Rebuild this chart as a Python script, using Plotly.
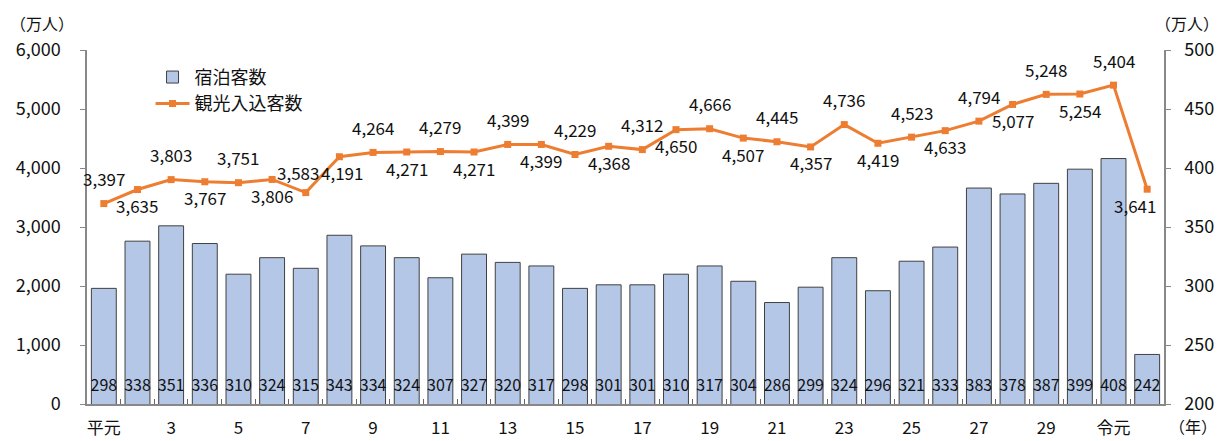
import plotly.graph_objects as go

# --- data ---
years = ["平元", "2", "3", "4", "5", "6", "7", "8", "9", "10", "11", "12", "13", "14", "15",
         "16", "17", "18", "19", "20", "21", "22", "23", "24", "25", "26", "27", "28", "29",
         "30", "令元", "2"]
shown_labels = ["平元", "3", "5", "7", "9", "11", "13", "15", "17", "19", "21", "23", "25", "27", "29", "令元"]
stay_guests = [298, 338, 351, 336, 310, 324, 315, 343, 334, 324, 307, 327, 320, 317, 298,
               301, 301, 310, 317, 304, 286, 299, 324, 296, 321, 333, 383, 378, 387, 399, 408, 242]
visitors = [3397, 3635, 3803, 3767, 3751, 3806, 3583, 4191, 4264, 4271, 4279, 4271, 4399, 4399, 4229,
            4368, 4312, 4650, 4666, 4507, 4445, 4357, 4736, 4419, 4523, 4633, 4794, 5077, 5248,
            5254, 5404, 3641]

x = list(range(len(years)))
tickvals = [i for i in x if years[i] in shown_labels][:len(shown_labels)]

FONT = "Noto Sans CJK JP"
BAR_FILL = "#B4C7E7"
LINE_COL = "#ED7D31"

fig = go.Figure()

fig.add_trace(go.Bar(
    x=x, y=stay_guests, name="宿泊客数", yaxis="y",
    marker=dict(color=BAR_FILL, line=dict(color="#404040", width=1)),
    width=0.74, hoverinfo="skip",
))

fig.add_trace(go.Scatter(
    x=x, y=[214] * len(x), mode="text", yaxis="y",
    text=[str(v) for v in stay_guests], textfont=dict(family=FONT, size=16, color="#111"),
    showlegend=False, hoverinfo="skip", cliponaxis=False,
))

fig.add_trace(go.Scatter(
    x=x, y=visitors, name="観光入込客数", yaxis="y2",
    mode="lines+markers",
    line=dict(color=LINE_COL, width=3),
    marker=dict(symbol="square", size=7, color=LINE_COL),
    cliponaxis=False,
))

# data labels for the line, alternating above / below
for i, v in enumerate(visitors):
    above = (i % 2 == 0)
    ys = 25 if above else -16
    xs = 0
    if i == 6:
        ys, xs = 20, -8
    if i == 7:
        xs = 3
    if i == 31:
        xs = -12
    fig.add_annotation(x=i, y=v, xref="x", yref="y2", text=f"{v:,}", showarrow=False,
                       yshift=ys, xshift=xs,
                       font=dict(family=FONT, size=17, color="#111"))

fig.update_layout(
    width=1220, height=433,
    margin=dict(l=79, r=64, t=42, b=37, autoexpand=False),
    plot_bgcolor="white", paper_bgcolor="white",
    font=dict(family=FONT, size=17, color="#222"),
    showlegend=True,
    legend=dict(x=0.059, y=0.975, xanchor="left", yanchor="top",
                font=dict(family=FONT, size=18, color="#111"),
                bgcolor="rgba(0,0,0,0)", tracegroupgap=0, itemwidth=34),
    xaxis=dict(
        range=[-0.5, len(x) - 0.5], automargin=False,
        tickmode="array", tickvals=tickvals, ticktext=shown_labels,
        ticks="", showline=True, linecolor="#888", linewidth=1.5,
        showgrid=False, zeroline=False, ticklabelstandoff=8,
        tickfont=dict(family=FONT, size=17, color="#111"),
        minor=dict(tickmode="array", tickvals=[i + 0.5 for i in x[:-1]],
                   ticks="inside", ticklen=5, tickcolor="#666", showgrid=False),
    ),
    yaxis=dict(
        side="right", range=[200, 500], dtick=50, automargin=False,
        showline=True, linecolor="#888", linewidth=1.5,
        ticks="outside", ticklen=5, tickcolor="#888",
        showgrid=False, zeroline=False, ticklabelstandoff=10,
        tickfont=dict(family=FONT, size=18, color="#111"),
    ),
    yaxis2=dict(
        overlaying="y", side="left", range=[0, 6000], dtick=1000, tickformat=",",
        automargin=False,
        showline=True, linecolor="#888", linewidth=1.5,
        ticks="outside", ticklen=5, tickcolor="#888",
        showgrid=False, zeroline=False, ticklabelstandoff=16,
        tickfont=dict(family=FONT, size=18, color="#111"),
    ),
    bargap=0.26,
)

fig.add_annotation(text="（万人）", xref="paper", yref="paper", x=-0.042, y=1.075,
                   xanchor="center", yanchor="middle", showarrow=False,
                   font=dict(family=FONT, size=16, color="#111"))
fig.add_annotation(text="（万人）", xref="paper", yref="paper", x=1.021, y=1.075,
                   xanchor="center", yanchor="middle", showarrow=False,
                   font=dict(family=FONT, size=16, color="#111"))
fig.add_annotation(text="（年）", xref="paper", yref="paper", x=1.027, y=-0.062,
                   xanchor="center", yanchor="middle", showarrow=False,
                   font=dict(family=FONT, size=16, color="#111"))

fig.write_html("out.html")
